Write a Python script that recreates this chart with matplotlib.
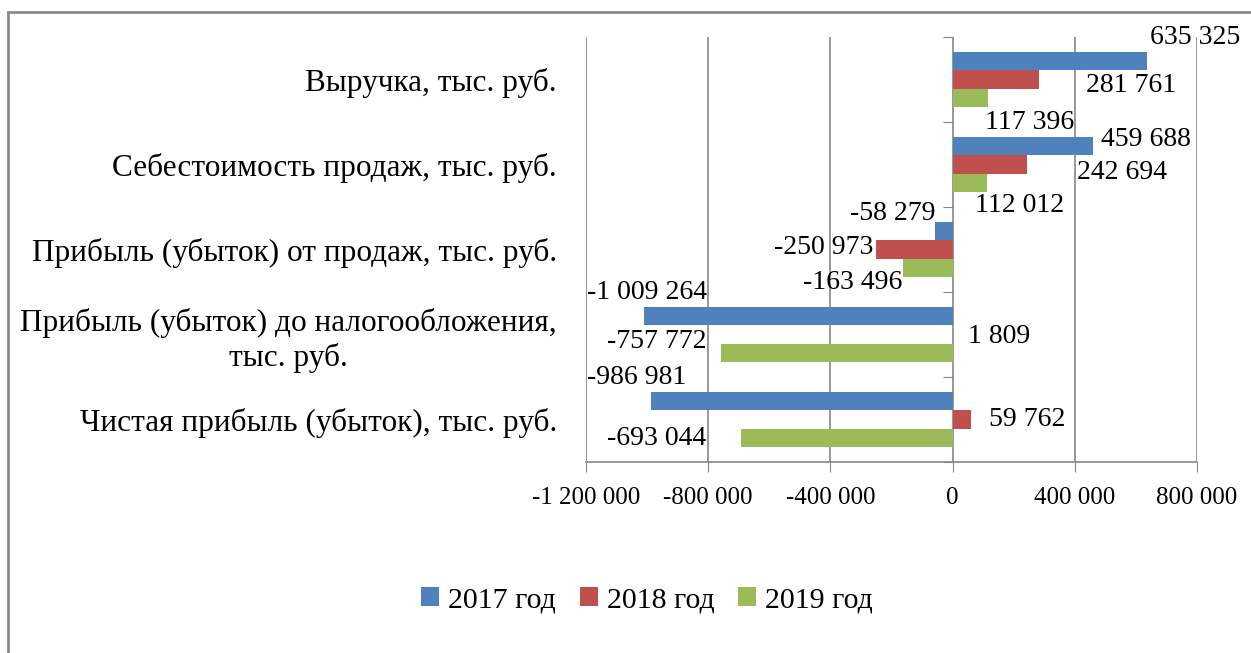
import matplotlib
matplotlib.use('Agg')
import matplotlib.pyplot as plt
import numpy as np
from matplotlib.patches import Rectangle

plt.rcParams['font.family'] = ['Liberation Serif', 'DejaVu Serif']
plt.rcParams['axes.unicode_minus'] = False

categories = [
    'Выручка, тыс. руб.',
    'Себестоимость продаж, тыс. руб.',
    'Прибыль (убыток) от продаж, тыс. руб.',
    'Прибыль (убыток) до налогообложения,\nтыс. руб.',
    'Чистая прибыль (убыток), тыс. руб.',
]
series_names = ['2017 год', '2018 год', '2019 год']
v2017 = [635325, 459688, -58279, -1009264, -986981]
v2018 = [281761, 242694, -250973, 1809, 59762]
v2019 = [117396, 112012, -163496, -757772, -693044]
xticks = [-1200000, -800000, -400000, 0, 400000, 800000]

colors = ['#4F81BD', '#C0504D', '#9BBB59']

# label offsets in pixels (dx, dy), the way Excel left them
offsets = [
    [(48, 23), (53, 6), (-42, 17), (3, 23), (-14, 23)],
    [(92, -6), (95, -8), (-52, 2), (46, -2), (56, 0)],
    [(41, -24), (33, -22), (-50, -14), (-64, 12), (-84, 0)],
]


def fmt(v):
    s = '{:,}'.format(abs(int(v))).replace(',', ' ')
    return ('-' if v < 0 else '') + s


fig = plt.figure(figsize=(12.51, 6.53), dpi=100)
ax = fig.add_axes([586/1251, 1 - 462/653, (1197-586)/1251, (462-37)/653])

y = np.arange(len(categories))
h = 0.218
all_vals = [v2017, v2018, v2019]
for k, vals in enumerate(all_vals):
    pos = y + (k - 1) * h
    ax.barh(pos, vals, height=h, color=colors[k], label=series_names[k], zorder=3)
    for i, v in enumerate(vals):
        dx, dy = offsets[k][i]
        ax.annotate(fmt(v), xy=(v, pos[i]), xytext=(dx, dy), textcoords='offset pixels',
                    ha='center', va='center', fontsize=20, zorder=4)

ax.set_xlim(-1200000, 800000)
ax.set_ylim(len(categories) - 0.5, -0.5)
ax.set_xticks(xticks)
ax.set_xticklabels([fmt(t) for t in xticks], fontsize=18)
ax.grid(axis='x', color='#868686', linewidth=1.2, zorder=0)
ax.tick_params(axis='x', length=7, color='#868686', pad=11)
for s in ['top', 'left', 'right']:
    ax.spines[s].set_visible(False)
ax.spines['bottom'].set_color('#868686')
ax.spines['bottom'].set_linewidth(1.2)

ax.set_yticks(y)
ax.set_yticklabels(categories, fontsize=22.5, multialignment='center')
ax.tick_params(axis='y', length=0, pad=21)

# category separators on the zero line
sec = ax.secondary_yaxis(0.6)
sec.set_yticks(np.arange(len(categories) + 1) - 0.5)
sec.set_yticklabels([])
sec.tick_params(axis='y', which='both', left=True, right=False, length=7,
                color='#868686', direction='out')
sec.yaxis.set_ticks_position('left')
sec.spines['left'].set_visible(False)
sec.spines['right'].set_visible(False)

fig.legend(loc='center', bbox_to_anchor=(647/1251, 1 - 600/653), ncol=3, frameon=False,
           fontsize=21.5, handlelength=0.6, handleheight=0.6, handletextpad=0.3,
           columnspacing=0.8)

fig.patches.append(Rectangle((8/1251, -0.1), 1.2, 1 - 12/653 + 0.1, fill=False,
                             edgecolor='#8a8a8a', linewidth=2, transform=fig.transFigure))

fig.savefig('out.png', dpi=100)
